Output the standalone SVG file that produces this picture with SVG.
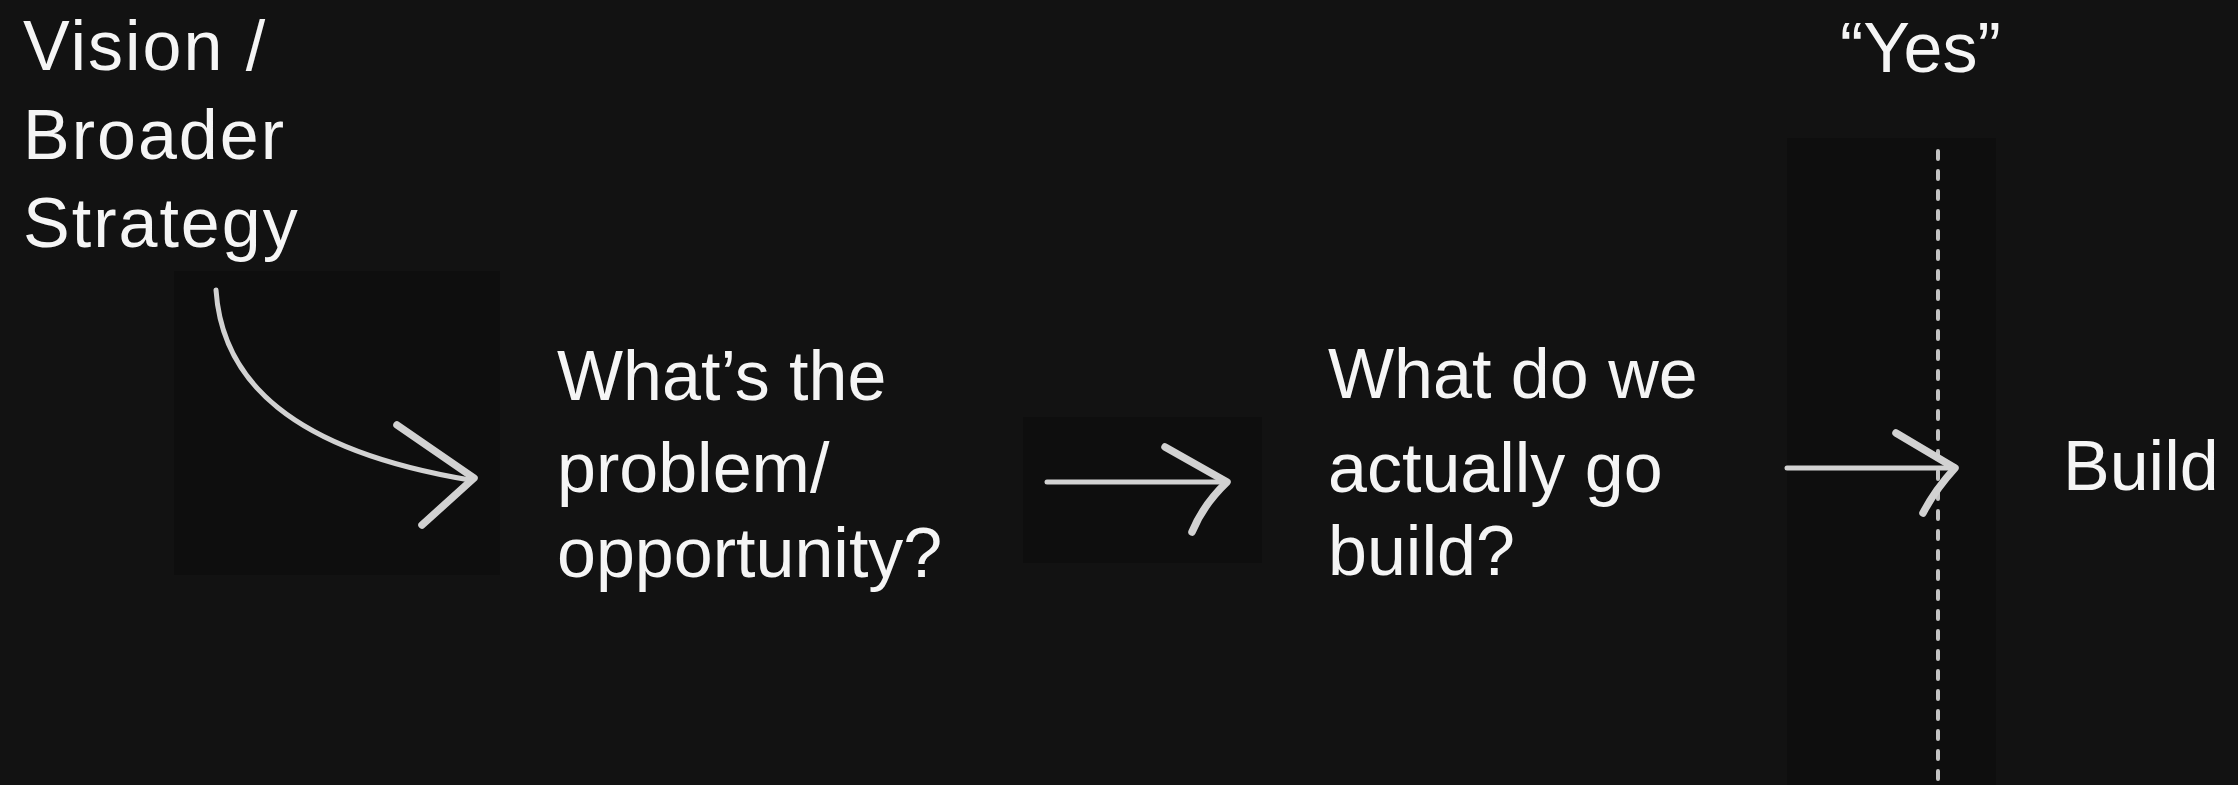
<svg xmlns="http://www.w3.org/2000/svg" width="2238" height="785" viewBox="0 0 2238 785">
  <style>
    .lbl { font-family: "Liberation Sans", "DejaVu Sans", sans-serif; font-size: 70px; fill: #f5f5f5; }
    .box { fill: #0e0e0e; }
    .shaft { fill: none; stroke: #d2d2d2; stroke-width: 5; stroke-linecap: round; stroke-linejoin: round; }
    .head { fill: none; stroke: #d2d2d2; stroke-width: 7.5; stroke-linecap: round; stroke-linejoin: round; }
    .dash { stroke: #c4c4c4; stroke-width: 4; stroke-linecap: round; stroke-dasharray: 8 12; }
  </style>
  <rect x="0" y="0" width="2238" height="785" fill="#121212"/>

  <g id="connectors">
    <rect class="box" x="174" y="271" width="326" height="304"/>
    <path class="shaft" d="M216,290 C222,380 290,450 470,480"/>
    <path class="head" d="M397,425 L474,478 L422,525"/>

    <rect class="box" x="1023" y="417" width="239" height="146"/>
    <path class="shaft" d="M1047,482 L1225,482"/>
    <path class="head" d="M1165,447 L1227,482 Q1203,505 1192,532"/>

    <rect class="box" x="1787" y="138" width="209" height="647"/>
    <line class="dash" x1="1938" y1="151" x2="1938" y2="790"/>
    <path class="shaft" d="M1787,468 L1953,468"/>
    <path class="head" d="M1896,433 L1955,468 Q1935,490 1923,513"/>
  </g>

  <g id="vision">
    <text class="lbl" x="23" y="70" letter-spacing="2">Vision /<tspan x="23" y="159">Broader</tspan><tspan x="23" y="247">Strategy</tspan></text>
  </g>

  <g id="problem">
    <text class="lbl" x="557" y="400">What’s the<tspan x="557" y="492">problem/</tspan><tspan x="557" y="577">opportunity?</tspan></text>
  </g>

  <g id="what-build">
    <text class="lbl" x="1328" y="398">What do we<tspan x="1328" y="492">actually go</tspan><tspan x="1328" y="575">build?</tspan></text>
  </g>

  <g id="yes">
    <text class="lbl" x="1840" y="72">“Yes”</text>
  </g>

  <g id="build">
    <text class="lbl" x="2063" y="490">Build</text>
  </g>
</svg>
